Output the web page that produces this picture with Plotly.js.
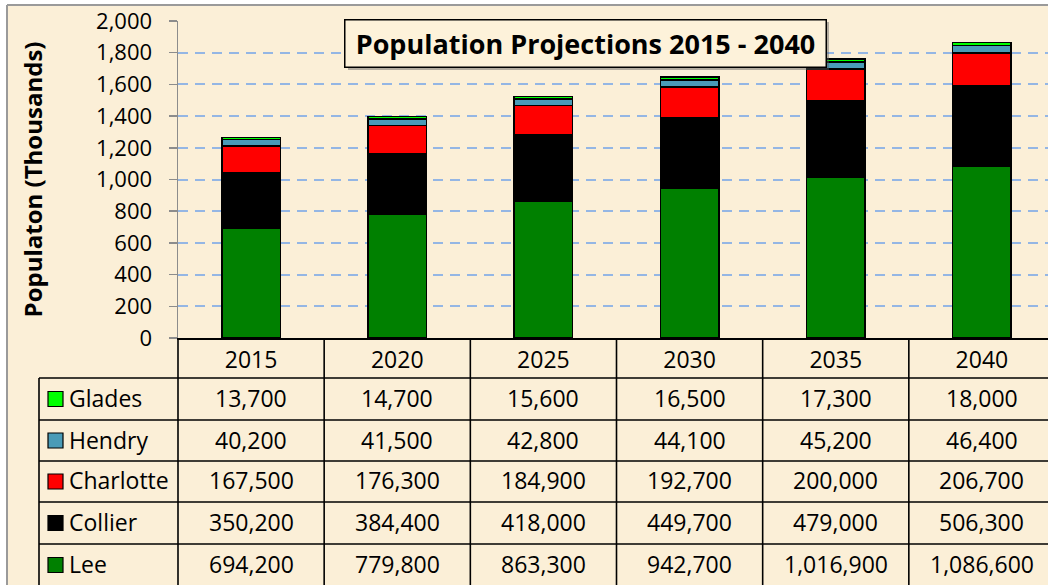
<!DOCTYPE html>
<html>
<head>
<meta charset="utf-8">
<script src="https://cdn.plot.ly/plotly-3.0.1.min.js"></script>
<style>
html,body{margin:0;padding:0;overflow:hidden;background:#ffffff;}
#chart{width:1060px;height:585px;}
</style>
</head>
<body>
<div id="chart"></div>
<script>
// ---- data ----
var years = ['2015', '2020', '2025', '2030', '2035', '2040'];
var counties = ['Glades', 'Hendry', 'Charlotte', 'Collier', 'Lee']; // table order (top to bottom)
var glades = [13700, 14700, 15600, 16500, 17300, 18000];
var hendry = [40200, 41500, 42800, 44100, 45200, 46400];
var charlotte = [167500, 176300, 184900, 192700, 200000, 206700];
var collier = [350200, 384400, 418000, 449700, 479000, 506300];
var lee = [694200, 779800, 863300, 942700, 1016900, 1086600];
var yTicks = [0, 200, 400, 600, 800, 1000, 1200, 1400, 1600, 1800, 2000];

var seriesValues = {Glades: glades, Hendry: hendry, Charlotte: charlotte, Collier: collier, Lee: lee};
var seriesColors = {Glades: '#00ff00', Hendry: '#4a9bb7', Charlotte: '#ff0000', Collier: '#000000', Lee: '#008000'};

// ---- layout geometry ----
var W = 1060, H = 585;
var mL = 178, mT = 21, mB = 247, mR = 5;
var plotW = W - mL - mR, plotH = H - mT - mB;
var FONT = 'Open Sans, Lato, sans-serif';
function pyPage(y) { return (mT + plotH - y) / plotH; } // page pixel y -> paper y
function px(x) { return (x - mL) / plotW; }             // page pixel x -> paper x
function py(off) { return -off / plotH; }               // pixels below plot bottom -> paper y

var rowEdges = [40, 82, 123, 164, 206, 248];
var legendLeft = px(39);
var TABLE_SIZE = 23;

// ---- traces (stacked from bottom) ----
var stackOrder = ['Lee', 'Collier', 'Charlotte', 'Hendry', 'Glades'];
var traces = stackOrder.map(function (name) {
  return {
    type: 'bar',
    name: name,
    x: years,
    y: seriesValues[name].map(function (v) { return v / 1000; }),
    marker: {color: seriesColors[name], line: {color: '#000000', width: 1.6}},
    hoverinfo: 'x+y+name'
  };
});

var shapes = [];
var annotations = [];

// parchment frame with gray border (page starts at x=7, y=5)
shapes.push({type: 'rect', xref: 'paper', yref: 'paper', x0: px(7), x1: px(W + 10), y0: pyPage(5), y1: pyPage(H + 10), fillcolor: '#fbefd7', line: {width: 0}, layer: 'below'});
shapes.push({type: 'line', xref: 'paper', yref: 'paper', x0: px(7), x1: px(7), y0: pyPage(5), y1: pyPage(H + 10), line: {color: '#9a9a9a', width: 2}});
shapes.push({type: 'line', xref: 'paper', yref: 'paper', x0: px(7), x1: px(W + 10), y0: pyPage(5), y1: pyPage(5), line: {color: '#9a9a9a', width: 2}});

// table horizontal lines
rowEdges.forEach(function (off) {
  shapes.push({type: 'line', xref: 'paper', yref: 'paper', x0: legendLeft, x1: 1.01, y0: py(off), y1: py(off), line: {color: '#000000', width: 1.6}});
});
// table vertical lines
shapes.push({type: 'line', xref: 'paper', yref: 'paper', x0: legendLeft, x1: legendLeft, y0: py(rowEdges[0]), y1: py(rowEdges[rowEdges.length - 1]), line: {color: '#000000', width: 1.6}});
for (var k = 0; k <= years.length; k++) {
  shapes.push({type: 'line', xref: 'paper', yref: 'paper', x0: k / years.length, x1: k / years.length, y0: 0, y1: py(rowEdges[rowEdges.length - 1]), line: {color: '#000000', width: 1.6}});
}

// table rows: legend key, label, values
counties.forEach(function (name, r) {
  var top = rowEdges[r], bot = rowEdges[r + 1];
  var mid = (top + bot) / 2;
  shapes.push({type: 'rect', xref: 'paper', yref: 'paper', x0: px(48), x1: px(63), y0: py(mid - 7.5), y1: py(mid + 7.5), fillcolor: seriesColors[name], line: {color: '#000000', width: 1.2}});
  annotations.push({xref: 'paper', yref: 'paper', x: px(67), y: py(mid - 1), text: name, showarrow: false, xanchor: 'left', yanchor: 'middle', font: {family: FONT, size: TABLE_SIZE, color: '#000000'}});
  seriesValues[name].forEach(function (v, i) {
    annotations.push({xref: 'x', yref: 'paper', x: i, y: py(mid - 1), text: v.toLocaleString('en-US'), showarrow: false, xanchor: 'center', yanchor: 'middle', font: {family: FONT, size: TABLE_SIZE, color: '#000000'}});
  });
});

// chart title box with shadow
shapes.push({type: 'rect', xref: 'paper', yref: 'paper', x0: px(348), x1: px(829), y0: pyPage(22), y1: pyPage(70), fillcolor: 'rgba(90,90,90,0.45)', line: {width: 0}, layer: 'above'});
annotations.push({xref: 'paper', yref: 'paper', x: px(585.5), y: pyPage(43), text: '<b>Population Projections 2015 - 2040</b>', showarrow: false, xanchor: 'center', yanchor: 'middle', font: {family: FONT, size: 27, color: '#000000'}, bgcolor: '#fdf2da', bordercolor: '#000000', borderwidth: 1.5, borderpad: 6, width: 468, height: 34});

var layout = {
  width: W, height: H,
  margin: {l: mL, r: mR, t: mT, b: mB, pad: 0},
  paper_bgcolor: 'rgba(0,0,0,0)',
  plot_bgcolor: '#dce6f2',
  barmode: 'stack',
  bargap: 0.6,
  showlegend: false,
  font: {family: FONT, color: '#000000'},
  xaxis: {
    type: 'category',
    categoryorder: 'array', categoryarray: years,
    range: [-0.5, years.length - 0.5],
    showline: true, linecolor: '#000000', linewidth: 2,
    ticks: '', showgrid: false, zeroline: false,
    tickfont: {family: FONT, size: TABLE_SIZE, color: '#000000'},
    ticklabelstandoff: 0,
    fixedrange: true
  },
  yaxis: {
    range: [0, 2000],
    tickvals: yTicks,
    tickformat: ',d',
    ticks: 'outside', ticklen: 8, tickcolor: '#8c8c8c', tickwidth: 1.5,
    showline: true, linecolor: '#8c8c8c', linewidth: 1.5,
    showgrid: true, gridcolor: '#94b6e4', gridwidth: 2, griddash: '10px,7px',
    zeroline: false,
    tickfont: {family: FONT, size: 22, color: '#000000'},
    ticklabelstandoff: 12,
    title: {text: '<b>Populaton (Thousands)</b>', font: {family: FONT, size: 24, color: '#000000'}, standoff: 46},
    fixedrange: true
  },
  shapes: shapes,
  annotations: annotations
};

Plotly.newPlot('chart', traces, layout, {displayModeBar: false, staticPlot: true});
</script>
</body>
</html>
